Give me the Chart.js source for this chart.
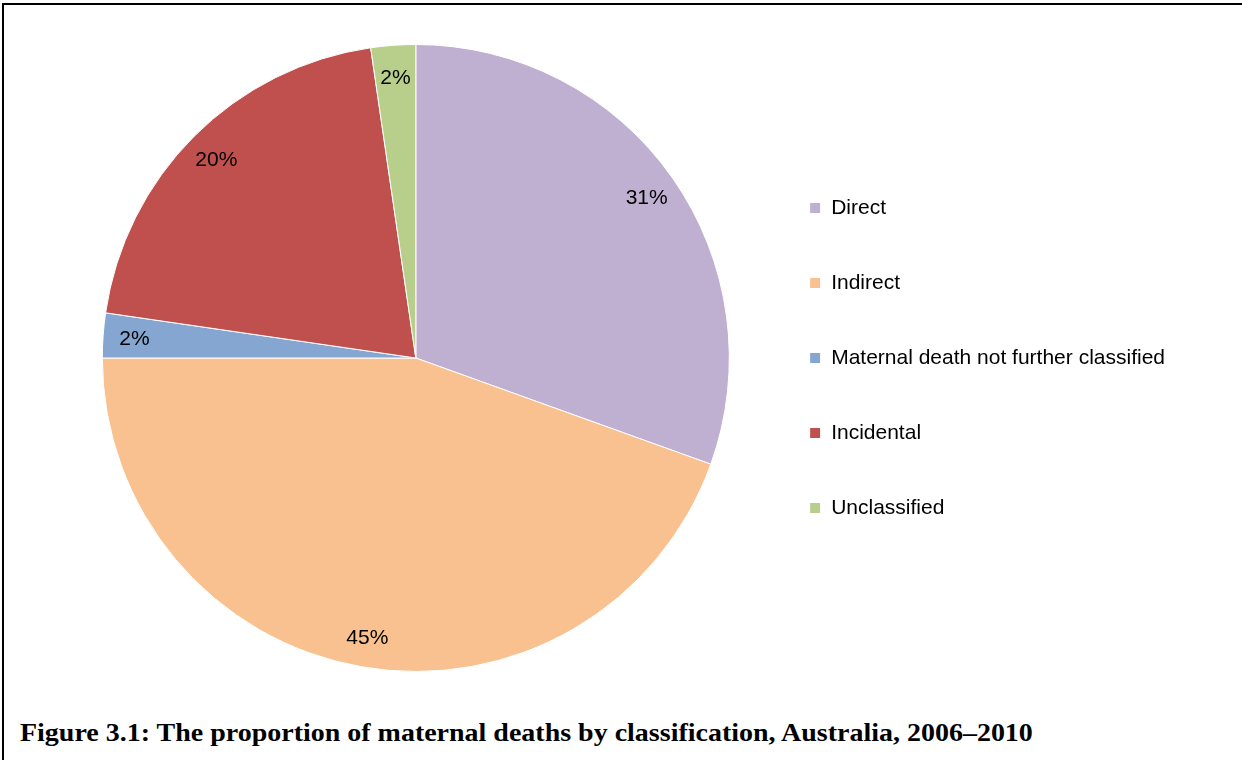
<!DOCTYPE html>
<html>
<head>
<meta charset="utf-8">
<script src="https://cdn.jsdelivr.net/npm/chart.js@4.4.0/dist/chart.umd.min.js"></script>
<style>
  html, body { margin: 0; padding: 0; background: #fff; }
  body { width: 1242px; height: 760px; position: relative; overflow: hidden; }
  #frame { position: absolute; left: 2px; top: 3px; width: 1240px; height: 757px;
           border-top: 2px solid #000; border-left: 2px solid #000; box-sizing: border-box; }
  #wrap { position: absolute; left: 0; top: 0; width: 1242px; height: 700px; }
  #caption { position: absolute; left: 20px; top: 719px; white-space: nowrap;
             font-family: "Liberation Serif", "DejaVu Serif", serif; font-weight: bold;
             font-size: 25px; color: #000; transform-origin: 0 0; }
</style>
</head>
<body>
<div id="frame"></div>
<div id="wrap"><canvas id="grafica" width="1242" height="700"></canvas></div>
<div id="caption">Figure 3.1: The proportion of maternal deaths by classification, Australia, 2006–2010</div>
<script>
var categorias = ["Direct", "Indirect", "Maternal death not further classified", "Incidental", "Unclassified"];
var porcentajes = [30.5, 44.5, 2.3, 20.4, 2.3];
var colores = ["#BFAFD0", "#F9C090", "#84A6D0", "#C0504E", "#B8CF8C"];

// caption stretched to the width of the original
var cap = document.getElementById("caption");
cap.style.transform = "scaleX(" + (1013 / cap.offsetWidth) + ")";

// etiquetas de porcentaje dentro de cada sector
var etiquetas = {
	id: "etiquetas",
	afterDatasetsDraw: function(chart) {
		var ctx = chart.ctx;
		var total = porcentajes.reduce(function(a, b) { return a + b; }, 0);
		ctx.save();
		ctx.font = "21px 'Liberation Sans', Arial, sans-serif";
		ctx.fillStyle = "#000";
		ctx.textAlign = "center";
		ctx.textBaseline = "middle";
		chart.getDatasetMeta(0).data.forEach(function(arc, i) {
			var p = arc.getProps(["x", "y", "startAngle", "endAngle", "outerRadius"], true);
			var ang = (p.startAngle + p.endAngle) / 2;
			var r = p.outerRadius * 0.9;
			var txt = Math.round(porcentajes[i] / total * 100) + "%";
			ctx.fillText(txt, p.x + Math.cos(ang) * r, p.y + Math.sin(ang) * r + 2);
		});
		ctx.restore();
	}
};

var ctx = document.getElementById("grafica");
var grafica = new Chart(ctx, {
	type: "pie",
	data: {
		labels: categorias,
		datasets: [{
			data: porcentajes,
			backgroundColor: colores,
			borderColor: "#fff",
			borderWidth: 1
		}]
	},
	options: {
		responsive: false,
		animation: false,
		layout: { padding: { left: 76, top: 44, bottom: 28, right: 67 } },
		plugins: {
			tooltip: { enabled: false },
			legend: {
				position: "right",
				labels: {
					boxWidth: 11,
					boxHeight: 11,
					padding: 54,
					color: "#000",
					font: { family: "'Liberation Sans', Arial, sans-serif", size: 21 }
				}
			}
		}
	},
	plugins: [etiquetas]
});
</script>
</body>
</html>
